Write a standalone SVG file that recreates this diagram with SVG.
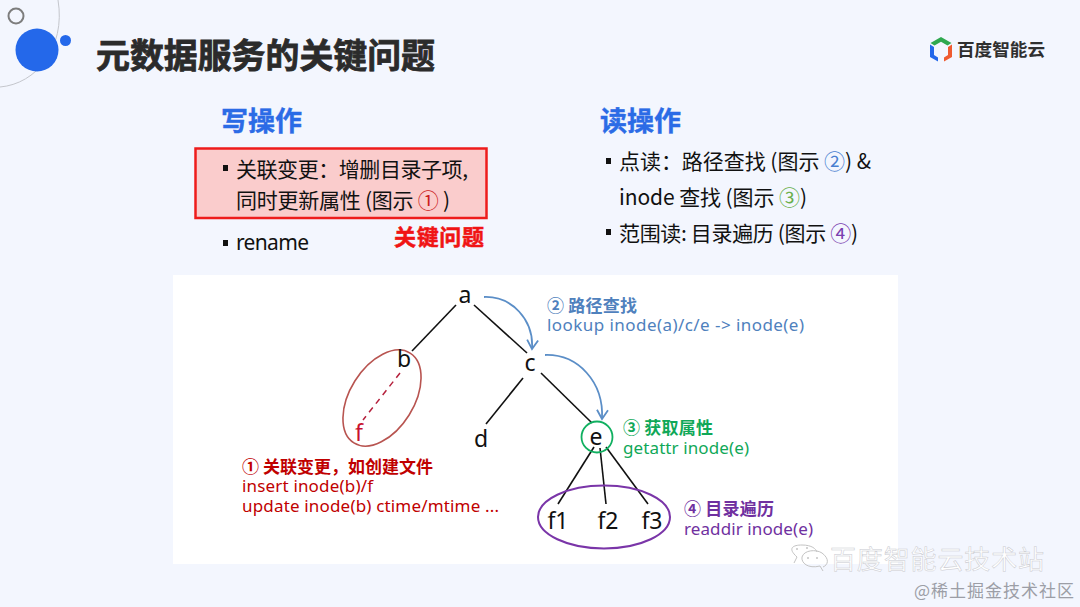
<svg xmlns="http://www.w3.org/2000/svg" width="1080" height="607" viewBox="0 0 1080 607">
<defs>
<style>
text{font-family:"Noto Sans","Noto Sans CJK SC",sans-serif;}
.cjk{font-family:"Noto Sans CJK SC","Noto Sans",sans-serif;}
.h{font-size:27px;font-weight:700;fill:#2b6be6;stroke:#2b6be6;stroke-width:.4px;}
.b{font-size:21px;fill:#111;}
.n{font-size:23px;fill:#111;}
.t{font-size:17px;}
.tb{font-size:17px;font-weight:700;}
.e{fill:none;stroke:#111;stroke-width:1.6;}
.arc{fill:none;stroke:#5b8ec7;stroke-width:1.8;}
</style>
<marker id="ah" markerWidth="14" markerHeight="14" refX="10" refY="6.500" orient="auto" markerUnits="userSpaceOnUse"><path d="M1 1L10 6.500L1 12" fill="none" stroke="#5b8ec7" stroke-width="1.800"/></marker>
</defs>
<rect width="1080" height="607" fill="#f3f6fe"/>
<g id="decor">
<path d="M58 0C66 48 36 84 0 87" fill="none" stroke="#c4c6cc" stroke-width="1"/>
<circle cx="16" cy="16" r="7.500" fill="none" stroke="#7d7d7d" stroke-width="2"/>
<circle cx="37" cy="50" r="21.500" fill="#2468ea"/>
<circle cx="65.500" cy="40.500" r="5.500" fill="#2468ea"/>
</g>
<text id="title" class="cjk" x="96" y="68" font-size="34" font-weight="700" fill="#2b2b2b" stroke="#2b2b2b" stroke-width=".8" textLength="339" lengthAdjust="spacingAndGlyphs">元数据服务的关键问题</text>
<g id="logo">
<path d="M941 37L951.500 43L947.500 45.500L941 41.800L934.500 45.500L930.500 43Z" fill="#2fa84f"/>
<path d="M930 44.500L934 47V55L938 57.500V61.500L930 57Z" fill="#2468ea"/>
<path d="M952 44.500L948 47V55L944 57.500V61.500L952 57Z" fill="#ef5b30"/>
<text class="cjk" x="957" y="56" font-size="17.500" font-weight="700" fill="#2f2f2f" textLength="88" lengthAdjust="spacingAndGlyphs">百度智能云</text>
</g>
<text id="h-write" class="cjk h" x="221" y="131">写操作</text>
<text id="h-read" class="cjk h" x="600" y="131">读操作</text>
<g id="write-list">
<rect x="195.500" y="148.500" width="291" height="69.500" fill="#facccc" stroke="#ee1c1c" stroke-width="2.500"/>
<rect x="223" y="165" width="5" height="6" fill="#111"/>
<text class="cjk b" x="236" y="177" textLength="232">关联变更：增删目录子项,</text>
<text class="cjk b" x="236" y="208" textLength="214">同时更新属性 (图示 <tspan fill="#cc1f1f">①</tspan> )</text>
<rect x="223" y="240" width="5" height="6" fill="#111"/>
<text class="b" x="236" y="250" textLength="73">rename</text>
<text class="cjk" x="394" y="245" font-size="22" font-weight="700" fill="#f01414" stroke="#f01414" stroke-width=".5" textLength="90">关键问题</text>
</g>
<g id="read-list">
<rect x="606" y="158" width="5" height="6" fill="#111"/>
<text class="cjk b" x="619" y="169" textLength="252">点读：路径查找 (图示 <tspan fill="#4a7fd0">②</tspan>) &amp;</text>
<text class="cjk b" x="619" y="205" textLength="188">inode 查找 (图示 <tspan fill="#6ab04c">③</tspan>)</text>
<rect x="606" y="229" width="5" height="6" fill="#111"/>
<text class="cjk b" x="619" y="241" textLength="239">范围读: 目录遍历 (图示 <tspan fill="#7a3fb0">④</tspan>)</text>
</g>
<rect id="panel" x="173" y="275" width="725" height="289" fill="#fff"/>
<g id="connectors">
<path class="e" d="M456 305L412 351"/>
<path class="e" d="M474 305L527 353"/>
<path class="e" d="M523 378L486 424"/>
<path class="e" d="M541 373L592 423"/>
<path d="M400 373L363 420" fill="none" stroke="#b5203c" stroke-width="1.500" stroke-dasharray="6 5"/>
<path class="e" d="M594 447L558 504"/>
<path class="e" d="M600 448L606 504"/>
<path class="e" d="M606 447L648 504"/>
<path class="arc" d="M484 297C512 296 534 320 532 349" marker-end="url(#ah)"/>
<path class="arc" d="M545 355C578 354 604 382 602 419" marker-end="url(#ah)"/>
</g>
<g id="node-a"><text class="n" x="465" y="303" text-anchor="middle">a</text></g>
<g id="node-b"><ellipse cx="382" cy="398" rx="32" ry="53" transform="rotate(32 382 398)" fill="none" stroke="#b85450" stroke-width="1.600"/><text class="n" x="404" y="367" text-anchor="middle">b</text></g>
<g id="node-f"><text class="n" x="359" y="441" text-anchor="middle" style="fill:#c8102e">f</text></g>
<g id="node-c"><text class="n" x="530" y="371" text-anchor="middle">c</text></g>
<g id="node-d"><text class="n" x="481" y="447" text-anchor="middle">d</text></g>
<g id="node-e"><circle cx="597" cy="437" r="15.500" fill="none" stroke="#10b060" stroke-width="1.800"/><text class="n" x="596" y="445" text-anchor="middle">e</text></g>
<g id="node-f-group"><ellipse cx="604" cy="517" rx="66" ry="31.500" fill="none" stroke="#7a35a8" stroke-width="2"/>
<text class="n" x="558" y="529" text-anchor="middle">f1</text>
<text class="n" x="608" y="529" text-anchor="middle">f2</text>
<text class="n" x="652" y="529" text-anchor="middle">f3</text></g>
<g id="label-1" fill="#c00000">
<text class="cjk tb" x="242" y="473" textLength="191">① 关联变更，如创建文件</text>
<text class="t" x="242" y="492" textLength="131">insert inode(b)/f</text>
<text class="t" x="242" y="512" textLength="257">update inode(b) ctime/mtime ...</text>
</g>
<g id="label-2" fill="#4f81bd">
<text class="cjk tb" x="547" y="312" textLength="90">② 路径查找</text>
<text class="t" x="547" y="331" textLength="257">lookup inode(a)/c/e -&gt; inode(e)</text>
</g>
<g id="label-3" fill="#10a858">
<text class="cjk tb" x="623" y="434" textLength="90">③ 获取属性</text>
<text class="t" x="623" y="454" textLength="126">getattr inode(e)</text>
</g>
<g id="label-4" fill="#7030a0">
<text class="cjk tb" x="684" y="515" textLength="90">④ 目录遍历</text>
<text class="t" x="684" y="535" textLength="129">readdir inode(e)</text>
</g>
<g id="watermark">
<g fill="none" stroke="#c4c4c4" stroke-width="1"><path d="M794 563L797 557C787 548 793 545 802 545C812 545 816 549 817 552"/><path d="M823 571L820 566C808 569 801 563 802 557C804 550 816 549 822 553C830 559 828 565 823 567"/></g>
<g fill="#c4c4c4"><circle cx="797" cy="549" r="1"/><circle cx="807" cy="548" r="1"/><circle cx="808" cy="558" r="1"/><circle cx="817" cy="558" r="1"/></g>
<text class="cjk" x="830" y="569" font-size="26" fill="#fff" stroke="#c9cad0" stroke-width=".5" textLength="214">百度智能云技术站</text>
<text class="cjk" x="914" y="597" font-size="17" fill="#9c9ea6" textLength="160">@稀土掘金技术社区</text>
</g>
</svg>
